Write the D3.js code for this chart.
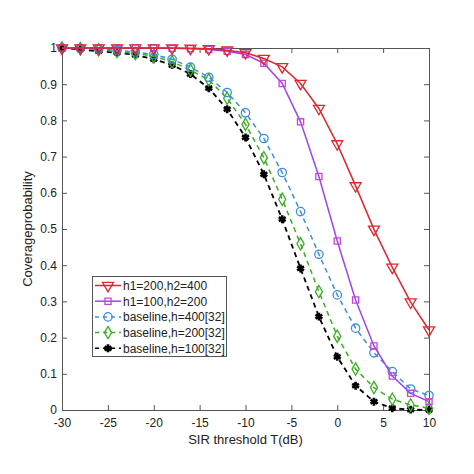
<!DOCTYPE html>
<html><head><meta charset="utf-8">
<script src="https://cdn.jsdelivr.net/npm/d3@7"></script>
<style>body{margin:0;background:#fff;}text{font-family:"Liberation Sans",Arial,sans-serif;}</style>
</head><body><svg id="c" width="474" height="474"></svg>
<script>
const sir = [-30,-28,-26,-24,-22,-20,-18,-16,-14,-12,-10,-8,-6,-4,-2,0,2,4,6,8,10];
const h200_400 = [1,1,1,1,1,1,1,0.999,0.998,0.994,0.987,0.971,0.948,0.902,0.833,0.735,0.619,0.499,0.394,0.298,0.221];
const h100_200 = [1,1,1,1,1,1,0.999,0.998,0.996,0.991,0.982,0.958,0.902,0.796,0.645,0.467,0.304,0.177,0.094,0.046,0.023];
const base400 = [1,0.999,0.997,0.994,0.989,0.982,0.969,0.947,0.919,0.877,0.821,0.750,0.656,0.548,0.430,0.318,0.226,0.158,0.106,0.058,0.040];
const base200 = [1,0.998,0.995,0.99,0.985,0.977,0.962,0.939,0.912,0.861,0.789,0.697,0.582,0.459,0.327,0.204,0.113,0.062,0.030,0.014,0.005];
const base100 = [1,0.996,0.991,0.987,0.981,0.969,0.953,0.928,0.889,0.831,0.753,0.651,0.527,0.391,0.258,0.147,0.067,0.023,0.005,0.001,0];
const seriesNames = ["h1=200,h2=400","h1=100,h2=200","baseline,h=400[32]","baseline,h=200[32]","baseline,h=100[32]"];
const xTicks = [-30,-25,-20,-15,-10,-5,0,5,10];
const yTicks = [0,0.1,0.2,0.3,0.4,0.5,0.6,0.7,0.8,0.9,1];
const xLabel = "SIR threshold T(dB)";
const yLabel = "Coverageprobability";

const series = [
  {name:seriesNames[0], vals:h200_400, line:"#e0262e", mark:"#e0262e", dash:null, sym:"tri"},
  {name:seriesNames[1], vals:h100_200, line:"#a044ee", mark:"#c844dc", dash:null, sym:"sq"},
  {name:seriesNames[2], vals:base400, line:"#3b8fdc", mark:"#3b8fdc", dash:"5,4", sym:"circ"},
  {name:seriesNames[3], vals:base200, line:"#3aae22", mark:"#3aae22", dash:"5,4", sym:"dia"},
  {name:seriesNames[4], vals:base100, line:"#000", mark:"#000", dash:"5,4", sym:"ast"}
];

const L=62,R=429,T=48,B=410;
const svg=d3.select("#c");
const x=d3.scaleLinear().domain([-30,10]).range([L,R]);
const y=d3.scaleLinear().domain([0,1]).range([B,T]);
const axCol="#555";

const gx=svg.append("g").attr("transform",`translate(0,${B})`).call(d3.axisBottom(x).tickValues(xTicks).tickSizeInner(-5).tickSizeOuter(0).tickPadding(8).tickFormat(d=>String(d)));
const gy=svg.append("g").attr("transform",`translate(${L},0)`).call(d3.axisLeft(y).tickValues(yTicks).tickSizeInner(-5).tickSizeOuter(0).tickPadding(5).tickFormat(d=>String(+d.toFixed(1))));
const gt=svg.append("g").attr("transform",`translate(0,${T})`).call(d3.axisTop(x).tickValues(xTicks).tickSizeInner(-5).tickSizeOuter(0).tickFormat(""));
const gr=svg.append("g").attr("transform",`translate(${R},0)`).call(d3.axisRight(y).tickValues(yTicks).tickSizeInner(-5).tickSizeOuter(0).tickFormat(""));
[gx,gy,gt,gr].forEach(g=>{g.selectAll("path,line").attr("stroke",axCol).attr("stroke-width",1);g.selectAll("text").attr("font-size",12).attr("fill","#222").attr("font-family","'Liberation Sans',Arial,sans-serif");});

svg.append("text").attr("x",(L+R)/2).attr("y",444).attr("text-anchor","middle").attr("font-size",13).attr("fill","#222").text(xLabel);
svg.append("text").attr("transform",`translate(32,${(T+B)/2}) rotate(-90)`).attr("text-anchor","middle").attr("font-size",13).attr("fill","#222").text(yLabel);

function symPath(s){
  if(s==="tri") return d3.symbol(d3.symbolTriangle,52)();
  if(s==="sq") return d3.symbol(d3.symbolSquare,38)();
  if(s==="circ") return d3.symbol(d3.symbolCircle,55)();
  if(s==="dia") return d3.symbol(d3.symbolDiamond,44)();
  return d3.symbol(d3.symbolAsterisk,44)();
}
function drawMark(g,s,col,px,py){
  const p=g.append("path").attr("d",symPath(s.sym)).attr("transform",`translate(${px},${py})`+(s.sym==="tri"?" rotate(180)":""));
  if(s.sym==="ast") p.attr("fill","none").attr("stroke",col).attr("stroke-width",2.6);
  else p.attr("fill","none").attr("stroke",col).attr("stroke-width",1.3);
}
const line=d3.line().x((d,i)=>x(sir[i])).y(d=>y(d));
series.slice().reverse().forEach(s=>{
  const g=svg.append("g");
  g.append("path").datum(s.vals).attr("d",line).attr("fill","none").attr("stroke",s.line).attr("stroke-width",s.sym==="ast"?1.8:1.5).attr("stroke-dasharray",s.dash);
  s.vals.forEach((v,i)=>drawMark(g,s,s.mark,x(sir[i]),y(v)));
});

const lg=svg.append("g");
lg.append("rect").attr("x",92.5).attr("y",276.5).attr("width",134).attr("height",80).attr("fill","#fff").attr("stroke","#555");
series.forEach((s,i)=>{
  const yy=285.5+i*15.7;
  lg.append("line").attr("x1",95).attr("x2",121).attr("y1",yy).attr("y2",yy).attr("stroke",s.line).attr("stroke-width",1.5).attr("stroke-dasharray",s.dash?"4,4":null);
  drawMark(lg,s,s.mark,108,yy);
  lg.append("text").attr("x",123).attr("y",yy+4.5).attr("font-size",12).attr("fill","#222").text(s.name);
});
</script></body></html>
